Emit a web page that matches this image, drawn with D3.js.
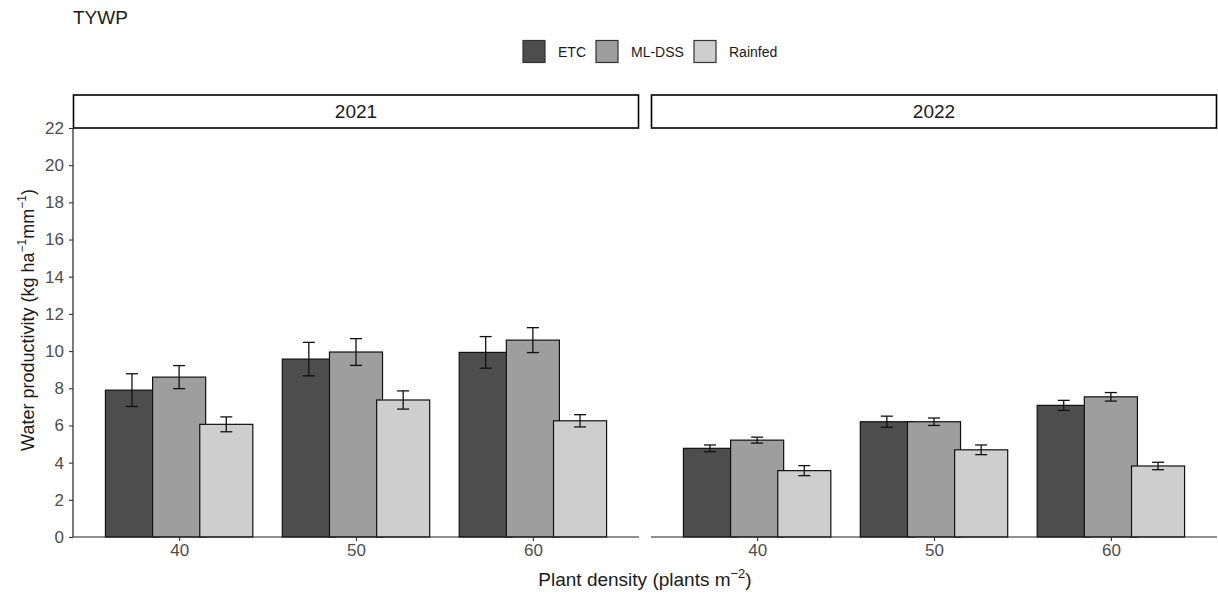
<!DOCTYPE html>
<html>
<head>
<meta charset="utf-8">
<script src="https://cdn.jsdelivr.net/npm/d3@7"></script>
<style>
  body { margin: 0; background: #fff; }
  svg { display: block; font-family: "Liberation Sans", Arial, sans-serif; }
</style>
</head>
<body>
<svg width="1218" height="597"></svg>
<script>
var years = ["2021", "2022"];
var densities = ["40", "50", "60"];
var treatments = ["ETC", "ML-DSS", "Rainfed"];
var fills = ["#4d4d4d", "#9e9e9e", "#cecece"];
var yTicks = [0, 2, 4, 6, 8, 10, 12, 14, 16, 18, 20, 22];

// means and error half-widths, one array per treatment and year (order: 40, 50, 60)
var etc2021 = [7.9, 9.57, 9.93],      etc2021Err = [0.88, 0.9, 0.85];
var mldss2021 = [8.6, 9.95, 10.59],   mldss2021Err = [0.62, 0.72, 0.67];
var rain2021 = [6.06, 7.37, 6.25],    rain2021Err = [0.4, 0.49, 0.33];
var etc2022 = [4.77, 6.2, 7.08],      etc2022Err = [0.18, 0.3, 0.27];
var mldss2022 = [5.21, 6.2, 7.54],    mldss2022Err = [0.16, 0.2, 0.23];
var rain2022 = [3.57, 4.69, 3.82],    rain2022Err = [0.27, 0.26, 0.2];

var series = {
  "2021": [[etc2021, etc2021Err], [mldss2021, mldss2021Err], [rain2021, rain2021Err]],
  "2022": [[etc2022, etc2022Err], [mldss2022, mldss2022Err], [rain2022, rain2022Err]]
};

var svg = d3.select("svg");
var plotTop = 128, plotBottom = 537;
var panels = [{ year: "2021", x0: 73, x1: 639 }, { year: "2022", x0: 651, x1: 1217 }];

var y = d3.scaleLinear().domain([0, 22]).range([plotBottom, plotTop]);

// title
svg.append("text").attr("x", 73).attr("y", 24)
    .style("font-size", "19px").style("fill", "#1a1a1a").text("TYWP");

// legend
var leg = svg.append("g");
var legX = [523, 596, 694];
treatments.forEach(function(t, i) {
  leg.append("rect").attr("x", legX[i]).attr("y", 40.5).attr("width", 22).attr("height", 22)
      .attr("fill", fills[i]).attr("stroke", "#333").attr("stroke-width", 1.2);
  leg.append("text").attr("x", legX[i] + 35).attr("y", 57)
      .style("font-size", "14px").style("fill", "#1a1a1a").text(t);
});

panels.forEach(function(p, pi) {
  // discrete scale with ggplot's 0.6 expansion
  var step = (p.x1 - p.x0) / 3.2;
  var x = d3.scalePoint().domain(densities).range([p.x0 + 0.6 * step, p.x1 - 0.6 * step]);
  var dodge = 0.8 * step / 3, barW = 0.3 * step;
  var g = svg.append("g");

  // strip
  g.append("rect").attr("x", p.x0 + 0.5).attr("y", 95).attr("width", p.x1 - p.x0 - 1).attr("height", 33)
      .attr("fill", "#fff").attr("stroke", "#000").attr("stroke-width", 1.6);
  g.append("text").attr("x", (p.x0 + p.x1) / 2).attr("y", 118).attr("text-anchor", "middle")
      .style("font-size", "19px").style("fill", "#1a1a1a").text(p.year);

  var rows = [];
  series[p.year].forEach(function(s, ti) {
    densities.forEach(function(d, di) {
      rows.push({ t: ti, d: d, v: s[0][di], e: s[1][di] });
    });
  });

  g.selectAll(".bar").data(rows).enter().append("rect")
      .attr("x", function(r) { return x(r.d) + (r.t - 1) * dodge - barW / 2; })
      .attr("y", function(r) { return y(r.v); })
      .attr("width", barW)
      .attr("height", function(r) { return y(0) - y(r.v); })
      .attr("fill", function(r) { return fills[r.t]; })
      .attr("stroke", "#111").attr("stroke-width", 1.2);

  var eb = g.selectAll(".err").data(rows).enter().append("g")
      .attr("stroke", "#111").attr("stroke-width", 1.3).attr("fill", "none");
  var cx = function(r) { return x(r.d) + (r.t - 1) * dodge; };
  eb.append("line").attr("x1", cx).attr("x2", cx)
      .attr("y1", function(r) { return y(r.v + r.e); }).attr("y2", function(r) { return y(r.v - r.e); });
  [1, -1].forEach(function(sg) {
    eb.append("line")
        .attr("x1", function(r) { return cx(r) - 6; }).attr("x2", function(r) { return cx(r) + 6; })
        .attr("y1", function(r) { return y(r.v + sg * r.e); }).attr("y2", function(r) { return y(r.v + sg * r.e); });
  });

  // x axis
  var xa = g.append("g").attr("transform", "translate(0," + plotBottom + ")")
      .call(d3.axisBottom(x).tickSize(4).tickPadding(3));
  xa.select(".domain").attr("d", "M" + p.x0 + ",0H" + p.x1).attr("stroke", "#222").attr("stroke-width", 1.2);
  xa.selectAll(".tick line").attr("stroke", "#333").attr("stroke-width", 1.1);
  xa.selectAll("text").style("font-size", "17px").style("fill", "#4d4d4d").style("font-family", "Liberation Sans, Arial, sans-serif");

  if (pi === 0) {
    var ya = g.append("g").attr("transform", "translate(" + p.x0 + ",0)")
        .call(d3.axisLeft(y).tickValues(yTicks).tickSize(4).tickPadding(5));
    ya.select(".domain").attr("d", "M0," + plotTop + "V" + plotBottom).attr("stroke", "#222").attr("stroke-width", 1.2);
    ya.selectAll(".tick line").attr("stroke", "#333").attr("stroke-width", 1.1);
    ya.selectAll("text").style("font-size", "17px").style("fill", "#4d4d4d").style("font-family", "Liberation Sans, Arial, sans-serif");
  }
});

// axis titles
var xt = svg.append("text").attr("x", 645).attr("y", 586).attr("text-anchor", "middle")
    .style("font-size", "19px").style("fill", "#1a1a1a");
xt.append("tspan").text("Plant density (plants m");
xt.append("tspan").attr("dy", -8).style("font-size", "13px").text("\u22122");
xt.append("tspan").attr("dy", 8).text(")");

var yt = svg.append("text").attr("transform", "translate(34,320) rotate(-90)")
    .attr("text-anchor", "middle").style("font-size", "18px").style("fill", "#1a1a1a");
yt.append("tspan").text("Water productivity (kg ha");
yt.append("tspan").attr("dy", -8).style("font-size", "12px").text("\u22121");
yt.append("tspan").attr("dy", 8).text("mm");
yt.append("tspan").attr("dy", -8).style("font-size", "12px").text("\u22121");
yt.append("tspan").attr("dy", 8).text(")");
</script>
</body>
</html>
